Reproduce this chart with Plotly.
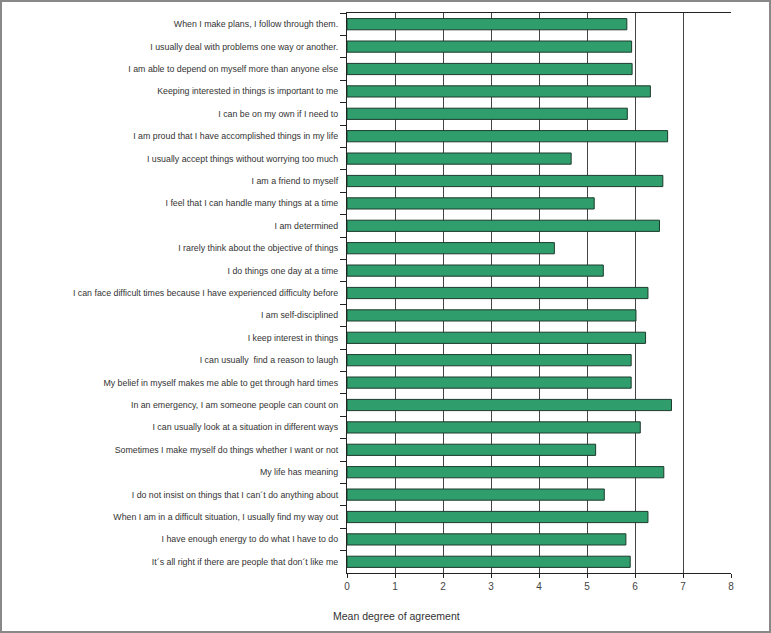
import plotly.graph_objects as go

statements = [
    "When I make plans, I follow through them.",
    "I usually deal with problems one way or another.",
    "I am able to depend on myself more than anyone else",
    "Keeping interested in things is important to me",
    "I can be on my own if I need to",
    "I am proud that I have accomplished things in my life",
    "I usually accept things without worrying too much",
    "I am a friend to myself",
    "I feel that I can handle many things at a time",
    "I am determined",
    "I rarely think about the objective of things",
    "I do things one day at a time",
    "I can face difficult times because I have experienced difficulty before",
    "I am self-disciplined",
    "I keep interest in things",
    "I can usually  find a reason to laugh",
    "My belief in myself makes me able to get through hard times",
    "In an emergency, I am someone people can count on",
    "I can usually look at a situation in different ways",
    "Sometimes I make myself do things whether I want or not",
    "My life has meaning",
    "I do not insist on things that I can\u00b4t do anything about",
    "When I am in a difficult situation, I usually find my way out",
    "I have enough energy to do what I have to do",
    "It\u00b4s all right if there are people that don\u00b4t like me",
]
mean_agreement = [5.83, 5.93, 5.94, 6.32, 5.84, 6.68, 4.67, 6.58, 5.15, 6.51,
                  4.32, 5.34, 6.27, 6.02, 6.22, 5.92, 5.92, 6.76, 6.11, 5.18,
                  6.60, 5.36, 6.27, 5.81, 5.90]
x_ticks = [0, 1, 2, 3, 4, 5, 6, 7, 8]

W, H = 771, 633
L, R, T, B = 347, 40, 13, 60
pw, ph = W - L - R, H - T - B

FONT = "Liberation Sans Narrow, Arial Narrow, Liberation Sans, Arial, sans-serif"

fig = go.Figure(go.Bar(
    x=mean_agreement, y=statements, orientation="h",
    marker=dict(color="#2f9e6c", line=dict(color="#1c3b2c", width=1)),
    width=0.5,
))

fig.update_layout(
    width=W, height=H,
    margin=dict(l=L, r=R, t=T, b=B, autoexpand=False),
    paper_bgcolor="white", plot_bgcolor="white",
    showlegend=False,
    font=dict(family=FONT, size=9, color="#333"),
)
fig.update_xaxes(
    range=[0, 8], tickvals=x_ticks, ticktext=[str(v) for v in x_ticks],
    showgrid=True, gridcolor="#444", gridwidth=1.3,
    showline=True, linecolor="#222", linewidth=1.2, mirror=True,
    ticks="outside", ticklen=4, tickcolor="#222",
    tickfont=dict(size=10, family=FONT, color="#444"),
    zeroline=False, automargin=False,
)
fig.update_yaxes(
    type="category", autorange="reversed",
    showline=True, linecolor="#222", linewidth=1.2,
    ticks="outside", tickson="boundaries", ticklen=6, tickcolor="#222",
    tickfont=dict(size=8.8, family=FONT, color="#333"),
    ticklabelstandoff=6,
    showgrid=False, automargin=False,
)

fig.add_annotation(
    text="Mean degree of agreement", xref="paper", yref="paper",
    x=(396 - L) / pw, y=(T + ph - 616) / ph, showarrow=False,
    xanchor="center", yanchor="middle",
    font=dict(size=10.5, family=FONT, color="#333"),
)
fig.add_shape(
    type="rect", xref="paper", yref="paper",
    x0=(1 - L) / pw, x1=(W - 1 - L) / pw,
    y0=(T + ph - (H - 1)) / ph, y1=(T + ph - 1) / ph,
    line=dict(color="#888", width=2), fillcolor="rgba(0,0,0,0)", layer="above",
)

fig.write_html(
    "out.html",
    config={"displayModeBar": False},
    post_script="document.body.style.margin='0';document.body.style.overflow='hidden';",
)
